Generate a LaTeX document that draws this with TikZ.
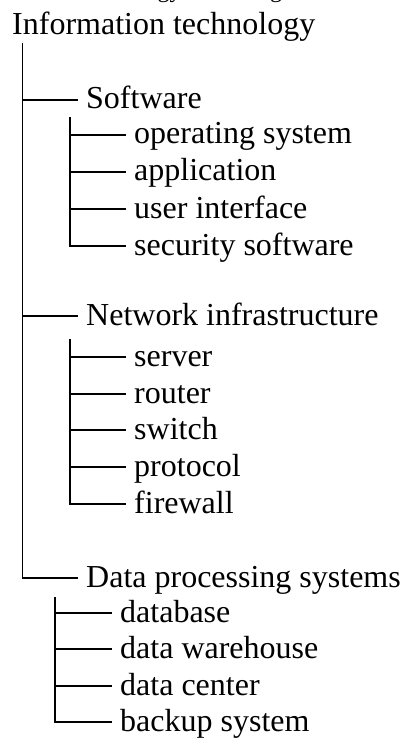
\documentclass[tikz,border=0pt]{standalone}
\usepackage{fontspec}
\setmainfont{Liberation Serif}
\begin{document}
\begin{tikzpicture}[x=1pt,y=-1pt,
  lbl/.style={anchor=west, inner xsep=8pt, inner ysep=0pt, text height=22pt, text depth=4pt, font=\fontsize{32}{38}\selectfont},
  ln/.style={line width=1.9pt}]
\useasboundingbox (0,0) rectangle (404,738);
% cropped title
\node[anchor=base east, inner sep=0pt, font=\fontsize{24}{28}\selectfont] (title) at (293,-2) {Information technology knowledge};
% root
\node[lbl] (root) at (4,26) {Information technology};
% level 1
\node[lbl] (sw) at (78,100) {Software};
\node[lbl] (net) at (78,316) {Network infrastructure};
\node[lbl] (data) at (78,578) {Data processing systems};
% software children
\node[lbl] (sw1) at (126,135) {operating system};
\node[lbl] (sw2) at (126,172) {application};
\node[lbl] (sw3) at (126,209) {user interface};
\node[lbl] (sw4) at (126,246) {security software};
% network children
\node[lbl] (n1) at (126,357) {server};
\node[lbl] (n2) at (126,394) {router};
\node[lbl] (n3) at (126,430) {switch};
\node[lbl] (n4) at (126,467) {protocol};
\node[lbl] (n5) at (126,504) {firewall};
% data children
\node[lbl] (d1) at (112,613) {database};
\node[lbl] (d2) at (112,649) {data warehouse};
\node[lbl] (d3) at (112,686) {data center};
\node[lbl] (d4) at (112,722) {backup system};
% trunk
\coordinate (tt) at (22.5,43);
\draw[ln] (tt) |- (data.west);
\draw[ln] (tt |- sw.west) -- (sw.west);
\draw[ln] (tt |- net.west) -- (net.west);
% software subtree
\coordinate (st) at (70,117);
\draw[ln] (st) |- (sw4.west);
\foreach \n in {sw1,sw2,sw3} \draw[ln] (st |- \n.west) -- (\n.west);
% network subtree
\coordinate (nt) at (70,339);
\draw[ln] (nt) |- (n5.west);
\foreach \n in {n1,n2,n3,n4} \draw[ln] (nt |- \n.west) -- (\n.west);
% data subtree
\coordinate (dt) at (55,597);
\draw[ln] (dt) |- (d4.west);
\foreach \n in {d1,d2,d3} \draw[ln] (dt |- \n.west) -- (\n.west);
\end{tikzpicture}
\end{document}
